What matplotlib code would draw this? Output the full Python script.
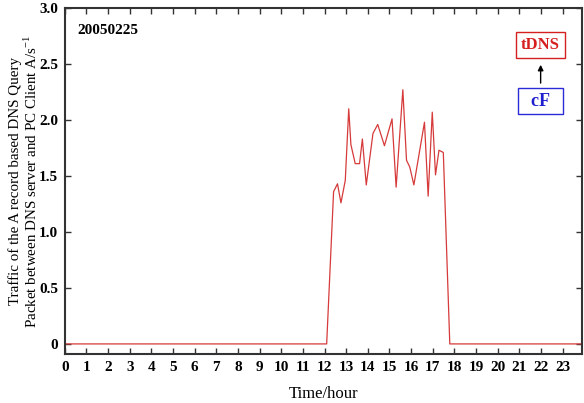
import matplotlib
matplotlib.use("Agg")
import matplotlib.pyplot as plt

plt.rcParams["font.family"] = ["Liberation Serif", "DejaVu Serif"]
plt.rcParams["mathtext.fontset"] = "custom"
plt.rcParams["mathtext.rm"] = "Liberation Serif"

# time (hour) and traffic readings
hours = [0.0, 12.1, 12.42, 12.6, 12.76, 12.96, 13.12, 13.22, 13.42, 13.62, 13.75,
         13.93, 14.24, 14.46, 14.77, 15.12, 15.31, 15.62, 15.79, 15.94, 16.13,
         16.62, 16.79, 16.98, 17.13, 17.29, 17.49, 17.79, 23.9]
traffic = [0.0, 0.0, 1.36, 1.43, 1.26, 1.46, 2.10, 1.78, 1.61, 1.61, 1.83,
           1.42, 1.88, 1.96, 1.77, 2.01, 1.40, 2.27, 1.64, 1.58, 1.42,
           1.98, 1.32, 2.07, 1.51, 1.73, 1.71, 0.0, 0.0]
xticks = list(range(24))
yticks = [0, 0.5, 1.0, 1.5, 2.0, 2.5, 3.0]
ytick_labels = ["0", "0.5", "1.0", "1.5", "2.0", "2.5", "3.0"]

fig = plt.figure(figsize=(5.84, 4.03), dpi=100)
ax = fig.add_axes((0.111, 0.1216, 0.8856, 0.8585))
ax.plot(hours, traffic, color="#d63a3a", linewidth=0.9)

ax.set_xlim(0, 23.9)
ax.set_ylim(-0.09, 3.0)
ax.set_xticks(xticks)
ax.set_yticks(yticks)
ax.set_yticklabels(ytick_labels)
ax.tick_params(direction="in", top=True, right=True, length=4, width=1,
               color="#333333", labelsize=11, pad=5)
for lab in ax.get_xticklabels() + ax.get_yticklabels():
    lab.set_fontweight("bold")
for sp in ax.spines.values():
    sp.set_linewidth(1.5)
    sp.set_color("#333333")

ax.set_xlabel("Time/hour", fontsize=12, labelpad=9)
ax.set_ylabel("Traffic of the A record based DNS Query\n"
              "Packet between DNS server and PC Client A/s$^{-1}$",
              fontsize=10.8, labelpad=-1, linespacing=1.05)

ax.text(0.025, 0.955, "20050225", transform=ax.transAxes, fontsize=11,
        fontweight="bold", va="top", ha="left")

ax.text(0.920, 0.893, "tDNS", transform=ax.transAxes, fontsize=12,
        fontweight="bold", color="#d62020", ha="center", va="center",
        bbox=dict(boxstyle="square,pad=0.3", fc="white", ec="#d62020", lw=1))
ax.text(0.920, 0.731, "  cF  ", transform=ax.transAxes, fontsize=13,
        fontweight="bold", color="#1f1fd0", ha="center", va="center",
        bbox=dict(boxstyle="square,pad=0.25", fc="white", ec="#2a2ad6", lw=1))
ax.annotate("", xy=(0.920, 0.844), xytext=(0.920, 0.775),
            xycoords="axes fraction", textcoords="axes fraction",
            arrowprops=dict(arrowstyle="-|>", color="black", lw=1,
                            mutation_scale=8))

fig.savefig("out.png", dpi=100)
